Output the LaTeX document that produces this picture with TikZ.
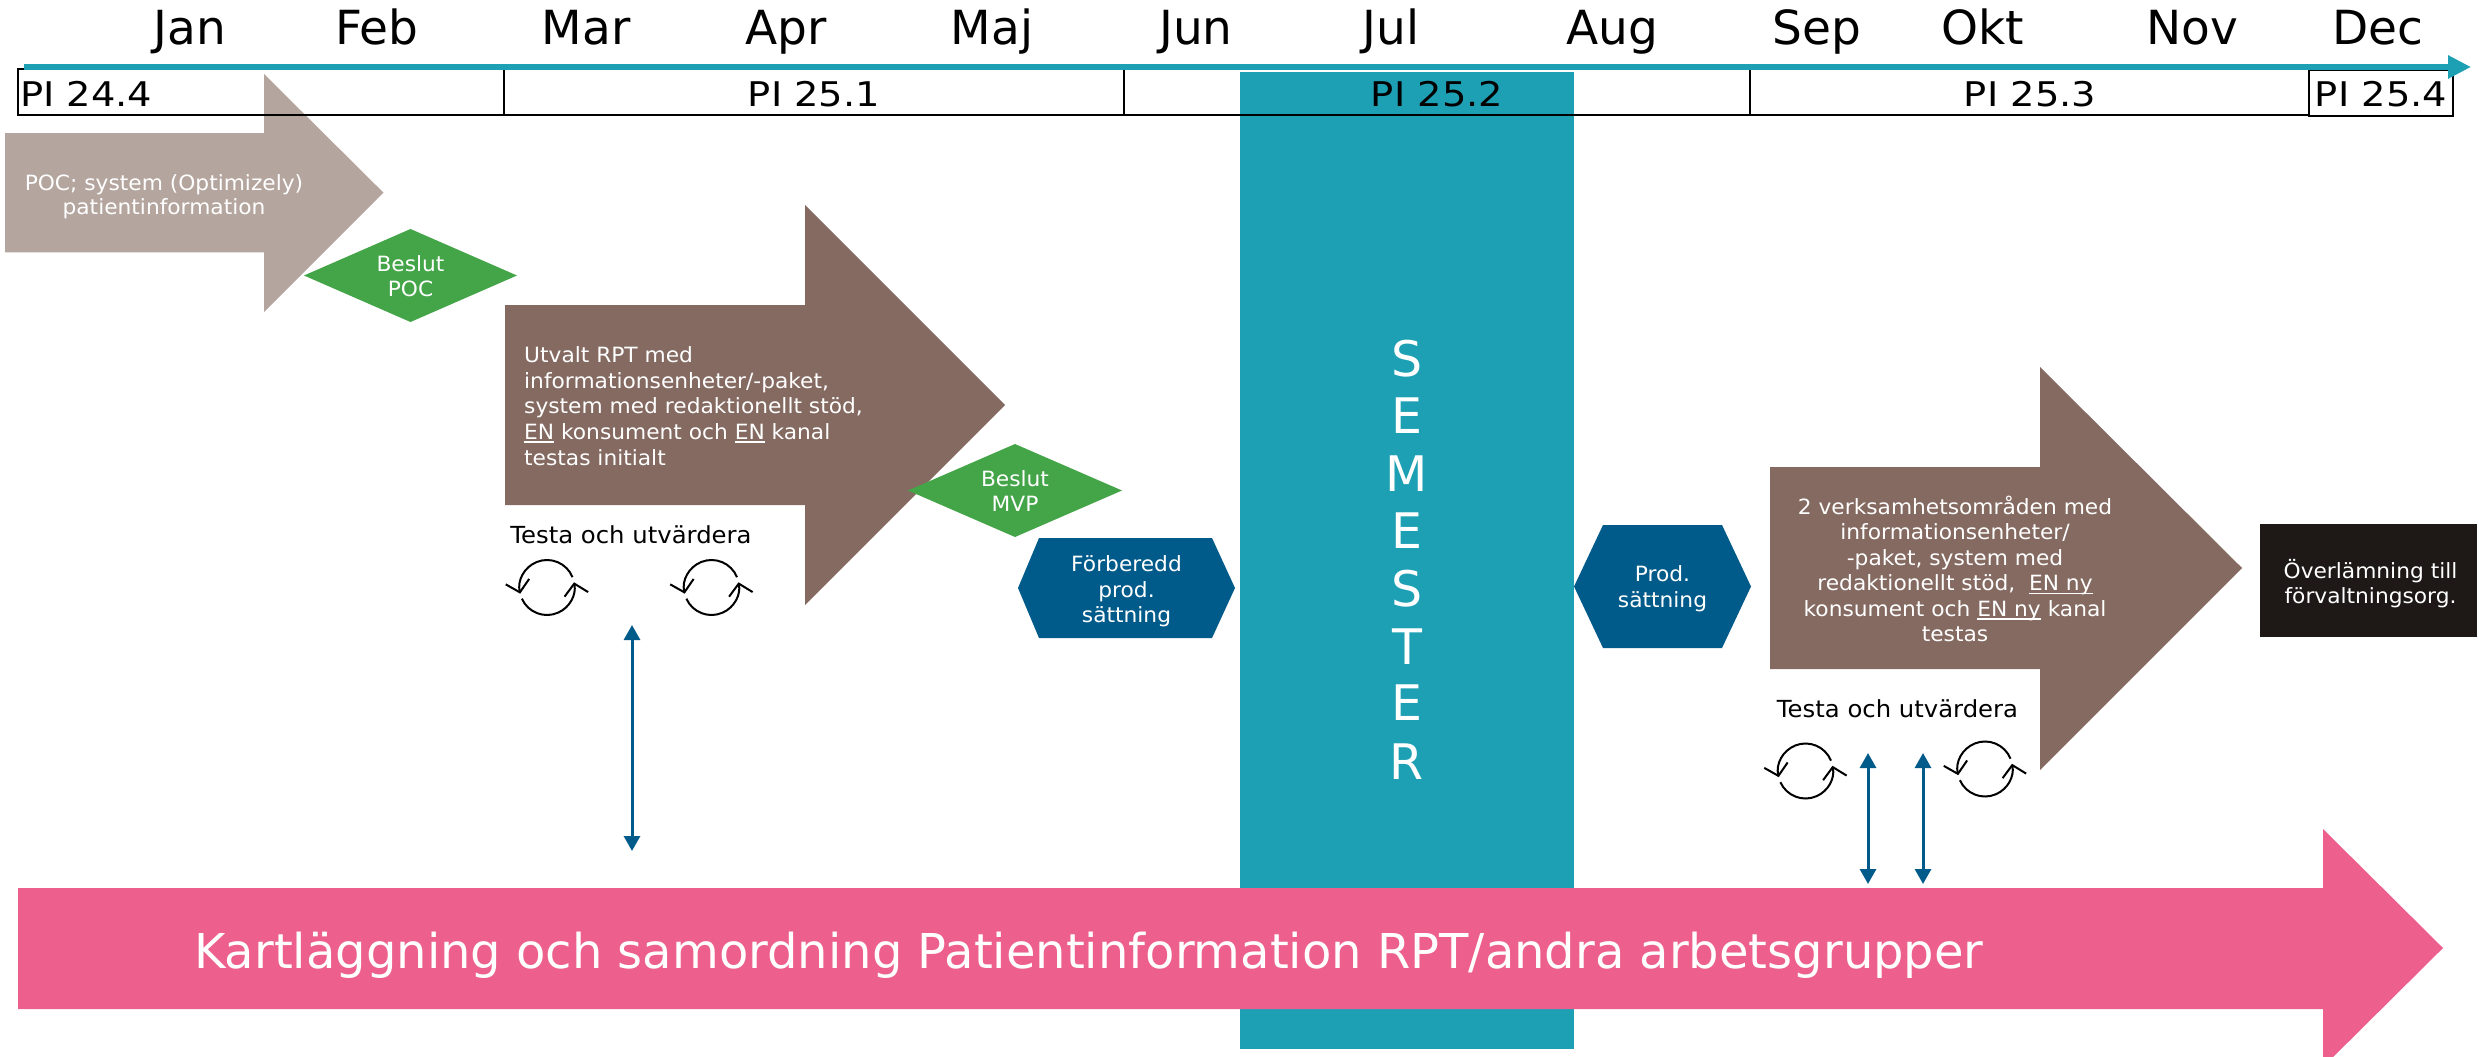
\documentclass[tikz,border=0pt]{standalone}
\usepackage{fontspec}
\setmainfont{DejaVu Sans}
\newfontfamily\pifont[FakeStretch=1.13]{DejaVu Sans}
\newfontfamily\lblfont[FakeStretch=1.035]{DejaVu Sans}
\usetikzlibrary{arrows.meta}
\definecolor{teal1}{RGB}{30,160,180}
\definecolor{taupe}{RGB}{180,165,158}
\definecolor{brown1}{RGB}{132,106,97}
\definecolor{green1}{RGB}{68,165,72}
\definecolor{dblue}{RGB}{0,91,138}
\definecolor{pink1}{RGB}{237,95,140}
\definecolor{blackbox}{RGB}{30,25,23}
\newsavebox\ulbox
\newcommand{\ulx}[1]{\leavevmode\sbox\ulbox{#1}\rlap{\rule[-3.5pt]{\wd\ulbox}{1.6pt}}\usebox\ulbox}
\tikzset{
  lbl/.style={inner sep=0pt, font=\lblfont\fontsize{21pt}{25pt}\selectfont, text=white, align=center, anchor=north},
  month/.style={inner sep=0pt, font=\fontsize{47pt}{56pt}\selectfont, anchor=base},
  pilbl/.style={inner sep=0pt, font=\pifont\fontsize{34pt}{42pt}\selectfont, anchor=base},
  pibox/.style={draw=black, line width=1.8pt},
  cyc/.style={draw=black, line width=2pt, -{Straight Barb[length=11pt,width=24pt]}},
  dbl/.style={draw=dblue, line width=3pt, {Triangle[length=15pt,width=16pt]}-{Triangle[length=15pt,width=16pt]}},
  testlbl/.style={inner sep=0pt, font=\lblfont\fontsize{23.5pt}{28pt}\selectfont, anchor=base},
  semlbl/.style={inner sep=0pt, font=\fontsize{49pt}{58pt}\selectfont, text=white, anchor=base},
}
\begin{document}
\begin{tikzpicture}[x=1pt,y=-1pt]
\useasboundingbox (0,0) rectangle (2479,1057);
\fill[white] (0,0) rectangle (2479,1057);

% semester bar
\fill[teal1] (1240,72) rectangle (1574,1049);

% POC arrow
\fill[taupe] (5,133) -- (264,133) -- (264,74) -- (383.5,192.7) -- (264,312) -- (264,252.3) -- (5,252.3) -- cycle;

% PI boxes
\draw[pibox] (18,69) rectangle (504,115);
\draw[pibox] (504,69) rectangle (1124,115);
\draw[pibox] (1124,69) rectangle (1750,115);
\draw[pibox] (1750,69) rectangle (2309,115);
\draw[pibox] (2309,70) rectangle (2453,116);

% timeline
\coordinate (tl0) at (24,67);
\coordinate (tl1) at (2471,67);
\draw[teal1, line width=6pt, -{Triangle[length=23pt,width=22pt]}] (tl0) -- (tl1);

% months
\foreach \m/\x in {Jan/190, Feb/377, Mar/586, Apr/786, Maj/992, Jun/1196, Jul/1391, Aug/1612, Sep/1817, Okt/1983, Nov/2192, Dec/2378}
  \node[month] (m-\m) at (\x,45) {\m};

% PI labels
\node[pilbl, anchor=base west] (pi244) at (20,106.5) {PI 24.4};
\node[pilbl] (pi251) at (814,106.5) {PI 25.1};
\node[pilbl] (pi252) at (1437,106.5) {PI 25.2};
\node[pilbl] (pi253) at (2030,106.5) {PI 25.3};
\node[pilbl] (pi254) at (2381,106.5) {PI 25.4};

% SEMESTER
\foreach \l/\b [count=\i] in {S/376.7, E/433.3, M/491, E/548.3, S/606, T/664, E/720.7, R/779}
  \node[semlbl] (sem\i) at (1407,\b) {\l};

% Beslut POC
\fill[green1] (304,275.5) -- (410.5,229) -- (517,275.5) -- (410.5,322) -- cycle;

% brown arrow 1
\fill[brown1] (505,305) -- (805,305) -- (805,205) -- (1005,405) -- (805,605) -- (805,505) -- (505,505) -- cycle;

% Beslut MVP
\fill[green1] (908,490.5) -- (1015,444) -- (1122,490.5) -- (1015,537) -- cycle;

% hexagons
\fill[dblue] (1018,588) -- (1039,538) -- (1212,538) -- (1235,588) -- (1212,638) -- (1039,638) -- cycle;
\fill[dblue] (1574,586.5) -- (1603,525) -- (1722,525) -- (1751,586.5) -- (1722,648) -- (1603,648) -- cycle;

% brown arrow 2
\fill[brown1] (1770,467) -- (2040,467) -- (2040,367) -- (2242,568) -- (2040,770) -- (2040,669) -- (1770,669) -- cycle;

% black box
\fill[blackbox] (2260,524) rectangle (2477,637);

% pink arrow
\fill[pink1] (18,888) -- (2323,888) -- (2323,829) -- (2443,948) -- (2323,1067) -- (2323,1009) -- (18,1009) -- cycle;

% texts in shapes
\node[lbl, font=\lblfont\fontsize{21pt}{24pt}\selectfont] (poc) at (164,173.2) {\strut POC; system (Optimizely)\\patientinformation};
\node[lbl] (bpoc) at (410.5,254.2) {\strut Beslut\\POC};
\node[lbl, font=\lblfont\fontsize{21pt}{25.7pt}\selectfont, align=left, anchor=north west] (utv) at (524,344.3)
  {\strut Utvalt RPT med\\informationsenheter/-paket,\\system med redaktionellt stöd,\\\ulx{EN} konsument och \ulx{EN} kanal\\testas initialt};
\node[lbl] (bmvp) at (1015,469.2) {\strut Beslut\\MVP};
\node[lbl, font=\lblfont\fontsize{21pt}{25.5pt}\selectfont] (forb) at (1126.5,553.8) {\strut Förberedd\\prod.\\sättning};
\node[lbl, font=\lblfont\fontsize{21pt}{26pt}\selectfont] (prod) at (1662.5,563.5) {\strut Prod.\\sättning};
\node[lbl, font=\lblfont\fontsize{21pt}{25.5pt}\selectfont] (verk) at (1955,495.5)
  {\strut 2 verksamhetsområden med\\informationsenheter/\\-paket, system med\\redaktionellt stöd,\ \ \ulx{EN ny}\\konsument och \ulx{EN ny} kanal\\testas};
\node[lbl] (overl) at (2370.5,559.2) {\strut Överlämning till\\förvaltningsorg.};

% test labels
\node[testlbl] (testA) at (631,543.3) {Testa och utvärdera};
\node[testlbl] (testB) at (1897.5,717.7) {Testa och utvärdera};

% cycle icons
\coordinate (cA1) at (547,587.5);
\coordinate (cA2) at (711.5,587.5);
\coordinate (cB1) at (1805.5,771);
\coordinate (cB2) at (1985,769);
\foreach \c in {cA1,cA2,cB1,cB2}{
  \draw[cyc] ([shift={(22:27.5pt)}]\c) arc[start angle=22, end angle=193, radius=27.5pt];
  \draw[cyc] ([shift={(204:27.5pt)}]\c) arc[start angle=204, end angle=371, radius=27.5pt];
}

% double arrows
\coordinate (dA1) at (632,625);
\coordinate (dA2) at (632,851);
\coordinate (dB1) at (1868,753);
\coordinate (dB2) at (1868,884);
\coordinate (dC1) at (1923,753);
\coordinate (dC2) at (1923,884);
\draw[dbl] (dA1) -- (dA2);
\draw[dbl] (dB1) -- (dB2);
\draw[dbl] (dC1) -- (dC2);

% pink text
\node[inner sep=0pt, font=\fontsize{48pt}{58pt}\selectfont, text=white, anchor=base west] (kart) at (194,968)
  {Kartläggning och samordning Patientinformation RPT/andra arbetsgrupper};
\end{tikzpicture}
\end{document}
